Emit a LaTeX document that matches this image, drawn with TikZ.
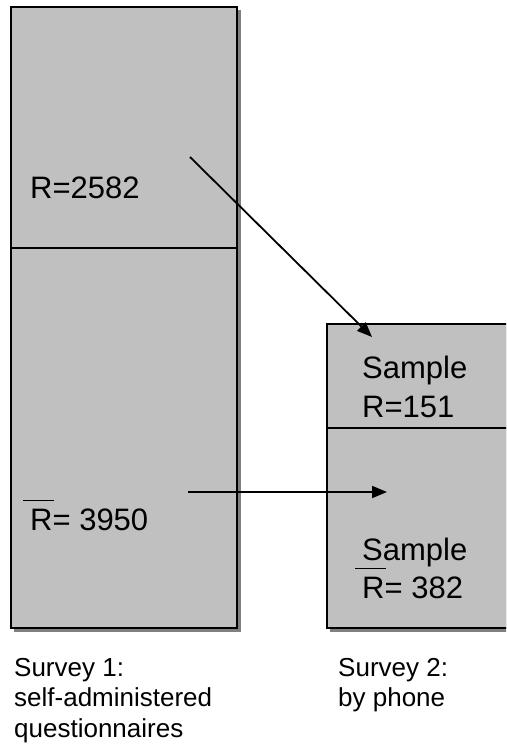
\documentclass[tikz,border=0pt]{standalone}
\usepackage{fontspec}
\setmainfont{Liberation Sans}
\usetikzlibrary{arrows.meta}
\definecolor{boxgray}{RGB}{192,192,192}
\definecolor{shadowgray}{RGB}{128,128,128}
\newcommand\rbar{\makebox[0pt][l]{\hspace{-7pt}\rule[29pt]{31pt}{1.5pt}}R}
\begin{document}
\begin{tikzpicture}[x=1pt,y=-1pt,
  box/.style={fill=boxgray,draw=black,line width=1.8pt,inner sep=0pt,anchor=north west},
  divider/.style={draw=black,line width=1.4pt},
  boxtext/.style={font=\fontsize{31}{37}\selectfont,inner sep=0pt,anchor=base west},
  caption/.style={font=\fontsize{26}{30.5}\selectfont,inner sep=0pt,anchor=north west,align=left},
  conn/.style={draw=black,line width=1.8pt,-{Triangle[length=15pt,width=12pt]}}]
\useasboundingbox (0,0) rectangle (506,746);
\clip (0,0) rectangle (506,746);
% shadows
\fill[shadowgray] (14,10) rectangle (240.5,631.5);
\fill[shadowgray] (330,327) rectangle (530,631.5);
% boxes
\node[box,minimum width=226pt,minimum height=621pt] (s1) at (10,6) {};
\node[box,minimum width=200pt,minimum height=304pt] (s2) at (326,323) {};
% dividers
\coordinate (d1a) at (10,248);
\coordinate (d1b) at (236,248);
\draw[divider] (d1a) -- (d1b);
\coordinate (d2a) at (326,428);
\coordinate (d2b) at (526,428);
\draw[divider] (d2a) -- (d2b);
% texts
\node[boxtext] (r1) at (30,198) {R=2582};
\node[boxtext] (r2) at (30,530) {\rbar= 3950};
\node[boxtext] (t1) at (362,378) {Sample};
\node[boxtext] (t2) at (362,417) {R=151};
\node[boxtext] (t3) at (362,560) {Sample};
\node[boxtext] (t4) at (362,598) {\rbar= 382};
% captions
\node[caption] (c1) at (14,658) {Survey 1:\\self-administered\\questionnaires};
\node[caption] (c2) at (338,658) {Survey 2:\\by phone};
% connectors
\coordinate (a1s) at (190,157);
\coordinate (a1e) at (372,337);
\coordinate (a2s) at (188,492);
\coordinate (a2e) at (387,492);
\draw[conn] (a1s) -- (a1e);
\draw[conn] (a2s) -- (a2e);
\end{tikzpicture}
\end{document}
